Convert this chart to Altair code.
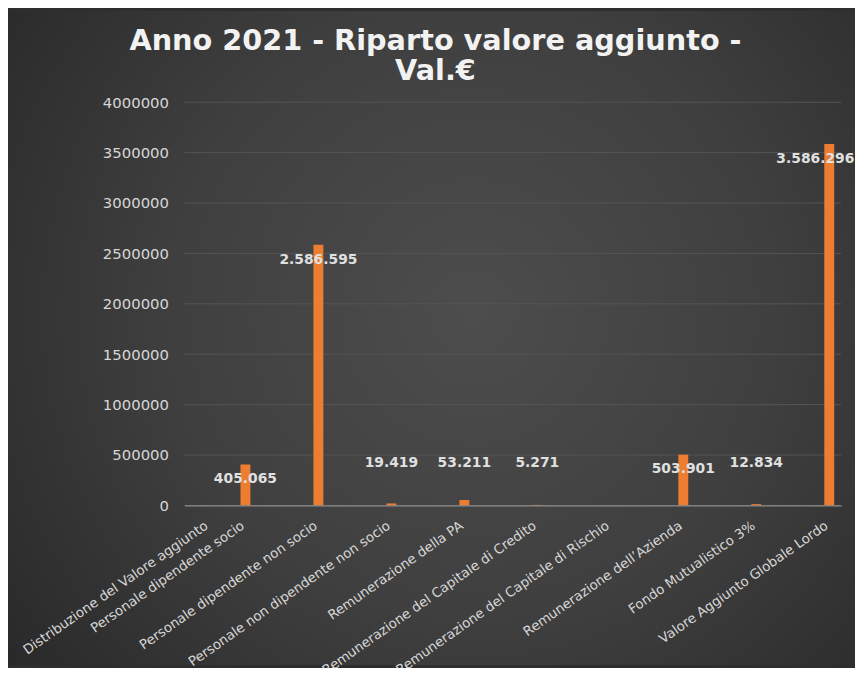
import altair as alt
import pandas as pd

# ---- data ----
categories = [
    "Distribuzione del Valore aggiunto",
    "Personale dipendente socio",
    "Personale dipendente non socio",
    "Personale non dipendente  non socio",
    "Remunerazione della PA",
    "Remunerazione del Capitale di Credito",
    "Remunerazione del Capitale di Rischio",
    "Remunerazione dell’Azienda",
    "Fondo Mutualistico 3%",
    "Valore Aggiunto Globale Lordo",
]
values = [None, 405065, 2586595, 19419, 53211, 5271, None, 503901, 12834, 3586296]
y_ticks = [0, 500000, 1000000, 1500000, 2000000, 2500000, 3000000, 3500000, 4000000]


def it_fmt(v):
    return f"{v:,}".replace(",", ".")


labels = [it_fmt(v) if v is not None else "" for v in values]

df = pd.DataFrame({"cat": categories, "val": values, "lab": labels})
grid_df = pd.DataFrame({"val": y_ticks})

FONT = "DejaVu Sans"
LABEL_COL = "#d6d6d6"
BG = "#2e2e2e"

x_scale = alt.Scale(type="point", padding=0, domain=categories)
y_scale = alt.Scale(domain=[0, 4000000], nice=False)

x_axis = alt.Axis(
    title=None,
    labelAngle=-35,
    labelFont=FONT,
    labelFontSize=13.5,
    labelColor=LABEL_COL,
    labelLimit=400,
    labelOverlap=False,
    labelPadding=13,
    labelOffset={"condition": {"test": "datum.value === 'Distribuzione del Valore aggiunto'", "value": 18}, "value": -19},
    ticks=False,
    domainColor="#8c8c8c",
    domainWidth=1.2,
    grid=False,
    zindex=1,
)
y_axis = alt.Axis(
    title=None,
    values=y_ticks,
    format="d",
    labelFont=FONT,
    labelFontSize=15,
    labelColor=LABEL_COL,
    labelPadding=16,
    ticks=False,
    domain=False,
    grid=False,
    zindex=1,
)

bg = alt.Chart(alt.Data(values=[{"k": 1}])).mark_rect(
    color={
        "gradient": "radial",
        "x1": 0.55, "y1": 0.47, "x2": 0.55, "y2": 0.47, "r1": 0, "r2": 0.72,
        "stops": [
            {"offset": 0, "color": "#4d4d4d"},
            {"offset": 0.5, "color": "#3f3f3f"},
            {"offset": 1, "color": "#272727"},
        ],
    }
).encode(
    x=alt.value(-178), x2=alt.value(677), y=alt.value(-92), y2=alt.value(568)
)

grid = alt.Chart(grid_df).mark_rule(color="#555555", strokeWidth=1).encode(
    y=alt.Y("val:Q", scale=y_scale, axis=y_axis)
)

bars = alt.Chart(df).mark_bar(size=10, color="#ED7D31", xOffset=-12).encode(
    x=alt.X("cat:N", scale=x_scale, axis=x_axis, sort=categories),
    y=alt.Y("val:Q", scale=y_scale, axis=y_axis),
)

text_base = alt.Chart(df).transform_filter("datum.val != null").transform_calculate(
    lpos="datum.val >= 100000 ? datum.val : 570000"
)
text_style = dict(font=FONT, fontSize=14, fontWeight="bold", color="#e0e0e0", baseline="middle", dy=15, xOffset=-12)

texts = text_base.transform_filter(
    "datum.cat !== 'Valore Aggiunto Globale Lordo'"
).mark_text(**text_style).encode(
    x=alt.X("cat:N", scale=x_scale, axis=x_axis, sort=categories),
    y=alt.Y("lpos:Q", scale=y_scale, axis=y_axis),
    text="lab:N",
)
text_last = text_base.transform_filter(
    "datum.cat === 'Valore Aggiunto Globale Lordo'"
).mark_text(**text_style, dx=-14).encode(
    x=alt.X("cat:N", scale=x_scale, axis=x_axis, sort=categories),
    y=alt.Y("lpos:Q", scale=y_scale, axis=y_axis),
    text="lab:N",
)

chart = alt.layer(bg, grid, bars, texts, text_last).properties(
    width=663,
    height=407,
    autosize=alt.AutoSizeParams(type="none"),
    padding={"left": 178, "top": 92, "right": 14, "bottom": 161},
    background=BG,
    title=alt.TitleParams(
        text=["Anno 2021 - Riparto valore aggiunto -", "Val.€"],
        font=FONT,
        fontSize=29,
        fontWeight="bold",
        color="#f2f2f2",
        anchor="middle",
        frame="group",
        dx=-78,
        offset=-76,
        lineHeight=31,
        zindex=1,
    ),
).configure_view(stroke=None)

chart.save("out.html", embed_options={"renderer": "svg", "actions": False})
